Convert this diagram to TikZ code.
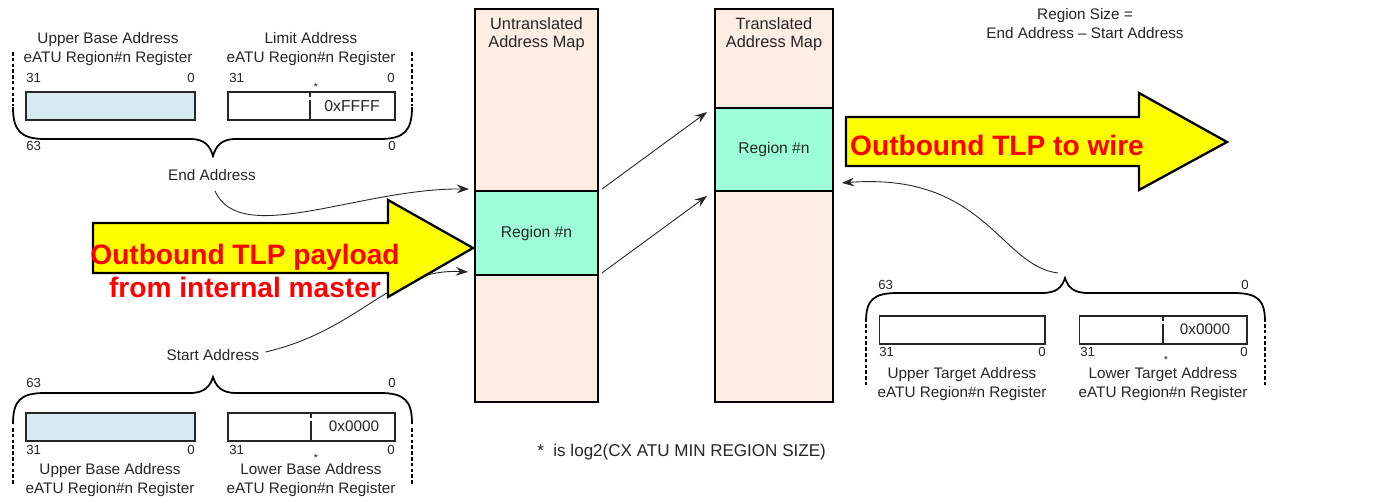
\documentclass[tikz,border=0pt]{standalone}
\usepackage{fontspec}
\setmainfont{Liberation Sans}
\usetikzlibrary{arrows.meta,calc}
\definecolor{peach}{HTML}{FDEDE3}
\definecolor{mint}{HTML}{9CFFDA}
\definecolor{regblue}{HTML}{D5EBF0}
\definecolor{txt}{HTML}{262626}
\definecolor{arrowyellow}{HTML}{FFFF00}
\begin{document}
\begin{tikzpicture}[x=0.02cm,y=-0.02cm,
  lbl/.style={font=\fontsize{8.7}{10.8}\selectfont, text=txt, inner sep=0, align=center},
  bit/.style={font=\fontsize{7.5}{9}\selectfont, text=txt, inner sep=0},
  star/.style={font=\fontsize{6}{7}\selectfont, text=txt, inner sep=0},
  mapbox/.style={draw=black, line width=1.1pt, fill=peach, inner sep=0, minimum width=2.46cm, minimum height=7.86cm},
  regionbox/.style={draw=black, line width=1.1pt, fill=mint, inner sep=0, minimum width=2.46cm, minimum height=1.68cm, font=\fontsize{8.9}{10.8}\selectfont, text=txt},
  regbox/.style={draw=black!85, line width=0.6pt, inner sep=0, minimum width=3.36cm, minimum height=0.56cm},
  conn/.style={draw=black!85, line width=0.5pt, -{Stealth[length=7pt,width=5pt,inset=2.5pt]}},
  brace/.style={draw=black, line width=1pt},
  dashv/.style={draw=black, line width=1pt, dash pattern=on 2pt off 1.3pt},
  bigarrow/.style={draw=black, line width=1.3pt, fill=arrowyellow, line join=miter},
  redtxt/.style={font=\fontsize{16}{18.5}\selectfont\bfseries, text=red, inner sep=0, align=center}
]
\useasboundingbox (0,0) rectangle (1375,502);
\fill[white] (0,0) rectangle (1375,502);

% ---- address maps
\node[mapbox] (umap) at (536.5,205.5) {};
\node[regionbox] (ru) at (536.5,233) {Region \#n};
\node[lbl, font=\fontsize{9.3}{10.3}\selectfont] (uhead) at (536.5,34) {Untranslated\\Address Map};
\node[mapbox, minimum width=2.36cm] (tmap) at (774,205.5) {};
\node[regionbox, minimum width=2.36cm, minimum height=1.66cm] (rt) at (774,149.5) {Region \#n};
\node[lbl, font=\fontsize{9.3}{10.3}\selectfont] (thead) at (774,34) {Translated\\Address Map};

\draw[conn] ($(ru.north east)+(3,-1)$) -- ($(rt.north west)+(-7,5)$);
\draw[conn] ($(ru.south east)+(3,-3)$) -- ($(rt.south west)+(-7,4)$);

% ---- top-left registers (end address)
\node[lbl] (ubtitle1) at (108,49.5) {Upper Base Address\\eATU Region\#n Register};
\node[lbl] (limtitle) at (311,49.5) {Limit Address\\eATU Region\#n Register};
\node[bit, anchor=west] (b1a) at (26,78) {31};
\node[bit, anchor=east] (b1b) at (195,78) {0};
\node[bit, anchor=west] (b1c) at (229,78) {31};
\node[bit, anchor=east] (b1d) at (395,78) {0};
\node[star] (s1) at (316,87) {*};
\node[regbox, fill=regblue, minimum width=3.38cm] (ub1) at (110.5,106) {};
\node[regbox, minimum width=3.34cm] (lim) at (311.5,106) {};
\draw[black!85, line width=0.6pt] (310,92) -- (310,97) (310,100) -- (310,120);
\node[lbl, font=\fontsize{9}{10.8}\selectfont] (ffff) at (352,106) {0xFFFF};
\draw[dashv] (13,52) -- (13,106);
\draw[dashv] (412,52) -- (412,106);
\draw[brace] (13,107) .. controls (13,130) and (20,139) .. (45,139) -- (190,139)
  .. controls (205,139) and (210,146) .. (213,156) .. controls (216,146) and (221,139) .. (236,139)
  -- (380,139) .. controls (405,139) and (412,130) .. (412,107);
\node[bit, anchor=west] (b63a) at (26,146) {63};
\node[bit, anchor=east] (b0a) at (396,146) {0};
\node[lbl] (ea) at (212,175) {End Address};

% ---- bottom-left registers (start address)
\node[lbl] (sa) at (213,355) {Start Address};
\draw[brace] (13,424) .. controls (13,401) and (20,393) .. (45,393) -- (190,393)
  .. controls (205,393) and (210,386) .. (213,377) .. controls (216,386) and (221,393) .. (236,393)
  -- (380,393) .. controls (405,393) and (412,401) .. (412,424);
\node[bit, anchor=west] (b63b) at (26,383) {63};
\node[bit, anchor=east] (b0b) at (396,383) {0};
\node[regbox, fill=regblue, minimum width=3.38cm] (ub2) at (110.5,427) {};
\node[regbox, minimum width=3.34cm] (lb) at (311.5,427) {};
\draw[black!85, line width=0.6pt] (311,413) -- (311,418) (311,421) -- (311,441);
\node[lbl] (z1) at (354,426) {0x0000};
\node[bit, anchor=west] (b2a) at (26,450) {31};
\node[bit, anchor=east] (b2b) at (195,450) {0};
\node[bit, anchor=west] (b2c) at (229,450) {31};
\node[bit, anchor=east] (b2d) at (395,450) {0};
\node[star] (s2) at (316,458) {*};
\draw[dashv] (13,428) -- (13,484);
\draw[dashv] (412,428) -- (412,484);
\node[lbl] (ubtitle2) at (110,480.5) {Upper Base Address\\eATU Region\#n Register};
\node[lbl] (lbtitle) at (311,480.5) {Lower Base Address\\eATU Region\#n Register};

% ---- right registers (target address)
\draw[brace] (866,322) .. controls (866,300) and (873,293) .. (898,293) -- (1042,293)
  .. controls (1057,293) and (1062,287) .. (1065,278) .. controls (1068,287) and (1073,293) .. (1088,293)
  -- (1233,293) .. controls (1258,293) and (1265,300) .. (1265,322);
\node[bit, anchor=west] (b63c) at (878,285) {63};
\node[bit, anchor=east] (b0c) at (1249,285) {0};
\node[regbox, minimum width=3.32cm] (ut) at (962,330) {};
\node[regbox, minimum width=3.36cm] (lt) at (1163,330) {};
\draw[black!85, line width=0.6pt] (1163,316) -- (1163,321) (1163,324) -- (1163,344);
\node[lbl] (z2) at (1205,329) {0x0000};
\node[bit, anchor=west] (b3a) at (879,352) {31};
\node[bit, anchor=east] (b3b) at (1046,352) {0};
\node[bit, anchor=west] (b3c) at (1080,352) {31};
\node[bit, anchor=east] (b3d) at (1248,352) {0};
\node[star] (s3) at (1166,360) {*};
\draw[dashv] (866,324) -- (866,386);
\draw[dashv] (1265,324) -- (1265,386);
\node[lbl] (uttitle) at (962,384.5) {Upper Target Address\\eATU Region\#n Register};
\node[lbl] (lttitle) at (1163,384.5) {Lower Target Address\\eATU Region\#n Register};
\coordinate (tgt) at (1058,273);

% ---- curved connectors
\draw[conn] ($(ea.south)+(3,10)$) .. controls (240,248) and (360,188) .. ($(ru.north west)+(-5,-1)$);
\draw[conn] ($(sa.east)+(6,-3)$) .. controls (360,330) and (390,268) .. ($(ru.south west)+(-6,-4)$);
\draw[conn] (tgt) .. controls (1000,266) and (985,172) .. ($(rt.south east)+(8,-9)$);

% ---- big yellow arrows
\draw[bigarrow] (93,223) -- (388,223) -- (388,200) -- (473,248) -- (388,297) -- (388,273) -- (93,273) -- cycle;
\node[redtxt] (intxt) at (245,271) {Outbound TLP payload\\from internal master};
\draw[bigarrow] (846,117) -- (1139,117) -- (1139,93) -- (1227,142) -- (1139,190) -- (1139,166) -- (846,166) -- cycle;
\node[redtxt] (outtxt) at (997,145) {Outbound TLP to wire};

% ---- notes
\node[lbl] (rsize) at (1085,24) {Region Size =\\End Address -- Start Address};
\node[lbl, anchor=west, font=\fontsize{9.7}{11}\selectfont] (note) at (537,452) {*\ \ is log2(CX ATU MIN REGION SIZE)};
\end{tikzpicture}
\end{document}
